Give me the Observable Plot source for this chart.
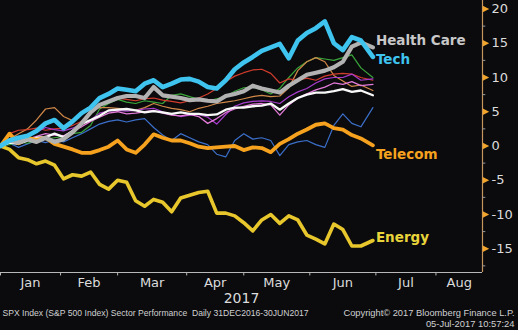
<!DOCTYPE html>
<html><head><meta charset="utf-8">
<script src="https://cdn.jsdelivr.net/npm/d3@7"></script>
<script src="https://cdn.jsdelivr.net/npm/@observablehq/plot@0.6"></script>
<style>html,body{margin:0;padding:0;background:#0b0b0e;overflow:hidden;}</style>
</head><body><div id="chart"></div>
<script>
// trading-day index since 30-Dec-2016 (0 = base day)
const days = [0,3,6,9,12,15,18,21,24,27,30,33,36,39,42,45,48,51,54,57,60,63,66,69,72,75,78,81,84,87,90,93,96,99,102,105,108,111,114,117,120,124];

const tech = [0,0.8,1.2,1.5,2.2,3.3,3.8,2.6,3.6,4.8,5.6,7.0,7.6,8.4,8.2,8.0,9.1,9.6,8.6,9.1,9.7,9.8,9.4,8.6,8.4,9.6,11.2,12.2,13.0,13.9,14.4,14.9,12.8,15.4,16.5,17.2,18.2,15.0,14.0,15.9,15.4,13.0];
const healthCare = [0,0.8,0.5,1.0,0.6,1.2,0.6,1.0,2.0,3.3,4.9,6.0,6.5,7.0,7.3,7.3,7.0,8.6,7.4,7.2,7.0,6.7,6.8,6.6,6.5,7.3,7.6,8.0,8.8,8.4,8.1,7.8,8.8,9.6,10.4,10.7,11.0,11.5,12.3,14.5,15.1,14.4];
const telecom = [0,1.8,0.4,1.2,0.9,1.2,0.3,-0.1,-0.5,-1.0,-1.0,-0.6,-0.1,0.8,-0.5,-1.0,0.2,1.7,1.2,0.8,0.8,0.4,-0.1,-0.3,-0.2,-0.1,0,-0.6,-0.2,-0.3,-0.9,0.3,1.0,1.8,2.4,3.1,3.3,2.6,2.4,1.6,1.1,0.1];
const energy = [0,-0.5,-1.7,-2.0,-2.6,-2.2,-2.8,-4.8,-4.2,-4.4,-3.8,-5.6,-6.3,-5.0,-5.3,-8.0,-8.8,-7.8,-8.2,-9.6,-7.6,-7.2,-6.8,-6.6,-9.8,-9.8,-10.2,-11.2,-12.4,-10.8,-10.0,-11.3,-10.2,-10.8,-13.0,-13.6,-14.3,-11.4,-12.2,-14.6,-14.6,-13.8];
const whiteSeries = [0,0.5,0.3,0.8,1.2,1.3,1.8,1.3,2.2,3.2,3.8,4.4,5.2,5.3,5.4,5.2,4.9,5.1,4.9,4.7,4.9,4.7,4.7,4.5,4.6,5.3,5.6,5.6,5.8,5.9,6.2,5.3,6.2,7.0,7.5,7.8,7.8,8.0,8.3,7.9,8.1,7.4];
const redSeries = [0,1.8,2.3,2.4,2.6,2.3,2.5,2.6,3.0,3.6,4.8,5.8,6.6,7.0,6.8,6.6,6.9,7.0,6.7,6.5,6.3,6.6,7.0,7.6,8.4,9.4,10.2,10.7,11.1,11.2,10.6,9.2,9.8,9.6,9.9,9.6,10.2,10.5,10.6,10.5,10.0,9.6];
const greenSeries = [0,0.2,0.6,0.4,0.8,1.0,1.2,1.4,1.8,2.0,3.0,5.4,6.2,6.8,6.4,6.2,6.6,6.4,6.2,7.4,7.6,7.2,6.8,6.6,6.9,7.2,8.0,8.5,8.6,8.2,7.6,8.4,10.0,11.4,12.3,12.9,12.7,12.5,12.9,13.3,11.4,10.0];
const tanSeries = [0,1.0,1.8,2.5,3.8,5.4,5.6,4.3,3.7,4.8,5.3,5.6,5.6,5.5,5.4,5.2,5.6,6.2,5.8,5.5,5.3,5.0,5.5,5.8,6.2,6.4,6.6,6.9,7.2,7.4,7.2,7.3,8.5,11.0,12.3,12.9,12.3,10.3,9.5,8.7,8.9,8.1];
const purpleSeries = [0,0.6,1.2,1.6,2.0,2.7,2.4,2.2,2.6,3.2,3.8,4.8,5.1,5.2,5.1,5.2,5.4,5.5,5.0,4.6,4.3,4.5,4.6,4.2,3.2,4.6,5.8,6.3,6.5,6.6,6.5,6.2,7.2,7.9,8.4,9.2,9.8,10.0,10.0,10.5,9.6,9.8];
const pinkSeries = [0,0.4,0.8,1.0,1.4,1.8,1.6,1.5,2.2,2.8,3.6,4.2,4.8,5.0,4.7,4.8,5.0,5.2,4.8,4.5,4.4,4.6,4.3,3.3,4.0,4.9,5.4,5.8,6.1,6.2,6.0,4.5,6.0,7.0,7.6,8.2,8.6,9.2,9.0,9.4,8.8,9.0];
const blueSeries = [0,0.4,-0.2,0.3,0.8,0.5,0.9,0.6,1.2,1.8,2.5,3.2,3.6,3.8,3.5,3.8,4.0,2.7,1.6,0.8,1.8,1.2,0.6,0.2,-1.2,-1.6,0.8,1.8,1.0,1.2,0.8,-1.4,0.2,0.6,0.8,0.2,-0.2,3.0,4.7,3.3,2.8,5.6];

const monthNames = ["Jan","Feb","Mar","Apr","May","Jun","Jul","Aug"];
const monthStarts = [0,20,39,62,81,103,125,145];
const yTicks = [-15,-10,-5,0,5,10,15,20];
const yMinor = [-17.5,-12.5,-7.5,-2.5,2.5,7.5,12.5,17.5];
const labelNames = ["Health Care","Tech","Telecom","Energy"];
const labelValues = [15.4,12.6,-1.25,-13.4];
const footerLeft = "SPX Index (S&P 500 Index) Sector Performance  Daily 31DEC2016-30JUN2017";
const footerRight1 = "Copyright\u00A9 2017 Bloomberg Finance L.P.";
const footerRight2 = "05-Jul-2017 10:57:24";
const yearLabel = "2017";

const X_MAX = 160.5, Y_MIN = -18.47, Y_MAX = 21.24;
const BG = "#0b0b0e";

const toRows = vals => days.map((d, i) => ({day: d, value: vals[i]}));
const monthMids = monthStarts.map((s, i) => (s + (i + 1 < monthStarts.length ? monthStarts[i + 1] : X_MAX)) / 2);

const triRight = {draw(ctx, size) { const r = Math.sqrt(size) / 2; ctx.moveTo(-r, -r); ctx.lineTo(r, 0); ctx.lineTo(-r, r); ctx.closePath(); }};

const thin = [
  [blueSeries, "#3b6fc9", 1.2],
  [greenSeries, "#3aa63a", 1.2],
  [tanSeries, "#d08848", 1.2],
  [redSeries, "#d23c2c", 1.2],
  [purpleSeries, "#a83ccc", 1.2],
  [pinkSeries, "#e27ad8", 1.3]
];
const thick = [
  [whiteSeries, "#f8f8f8", 2.3],
  [energy, "#e8c72c", 3.6],
  [telecom, "#f6a21e", 3.8],
  [healthCare, "#b2b2b2", 4.2],
  [tech, "#3ec4ef", 4.6]
];
const labelColors = ["#c8c8c8", "#3ec4ef", "#f6a21e", "#e9d43a"];

const lineMarks = [...thin, ...thick].map(([vals, color, w]) =>
  Plot.line(toRows(vals), {x: "day", y: "value", stroke: color, strokeWidth: w, strokeLinejoin: "round", strokeLinecap: "round"}));

const chart = Plot.plot({
  width: 518, height: 330,
  marginLeft: 0, marginRight: 36, marginTop: 0, marginBottom: 58,
  style: {background: BG, color: "#dcdcdc", fontFamily: "DejaVu Sans"},
  x: {domain: [0, X_MAX], axis: null},
  y: {domain: [Y_MIN, Y_MAX], axis: null},
  marks: [
    ...lineMarks,
    // bottom axis
    Plot.ruleY([Y_MIN], {stroke: "#b8b8b8", strokeWidth: 1.2}),
    Plot.ruleX(monthStarts, {x: d => d, y1: Y_MIN, y2: Y_MIN - 0.5, stroke: "#b8b8b8"}),
    Plot.text(monthNames, {x: (d, i) => monthMids[i], y: Y_MIN, text: d => d, dy: 10, lineAnchor: "middle", fill: "#dcdcdc", fontSize: 13}),
    // right axis
    Plot.ruleX([X_MAX], {stroke: "#c7965a", strokeWidth: 1.2}),
    Plot.ruleY(yMinor, {y: d => d, x1: X_MAX, x2: X_MAX + 1.1, stroke: "#9a9a9a"}),
    Plot.dot(yTicks, {x: X_MAX, y: d => d, symbol: triRight, r: 3.6, fill: "#f2a52c", stroke: null, dx: 3.5}),
    Plot.text(yTicks, {x: X_MAX, y: d => d, text: d => String(d), dx: 9, textAnchor: "start", fill: "#dcdcdc", fontSize: 13}),
    // series labels
    Plot.text(labelNames, {x: days[days.length - 1], y: (d, i) => labelValues[i], text: d => d, fill: (d, i) => labelColors[i], dx: 3, textAnchor: "start", fontWeight: "bold", fontSize: 13.5}),
    // year and footer
    Plot.text([yearLabel], {frameAnchor: "bottom", text: d => d, dy: 26, lineAnchor: "middle", fill: "#dcdcdc", fontSize: 14}),
    Plot.text([footerLeft], {frameAnchor: "bottom-left", text: d => d, dx: 2, dy: 41, textAnchor: "start", lineAnchor: "middle", fill: "#d0d0d0", fontSize: 8.6, fontFamily: "Liberation Sans"}),
    Plot.text([footerRight1], {frameAnchor: "bottom-right", text: d => d, dx: 32, dy: 41, textAnchor: "end", lineAnchor: "middle", fill: "#d0d0d0", fontSize: 9.3, fontFamily: "Liberation Sans"}),
    Plot.text([footerRight2], {frameAnchor: "bottom-right", text: d => d, dx: 32, dy: 51.5, textAnchor: "end", lineAnchor: "middle", fill: "#d0d0d0", fontSize: 9.4, fontFamily: "Liberation Sans"})
  ]
});
document.getElementById("chart").appendChild(chart);
</script>
</body></html>
